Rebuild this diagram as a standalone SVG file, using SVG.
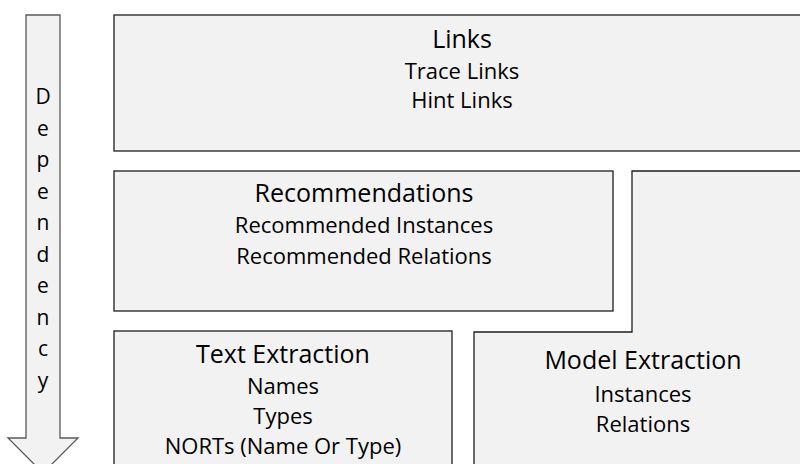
<svg xmlns="http://www.w3.org/2000/svg" width="800" height="464" viewBox="0 0 800 464">
<style>
.box{fill:#f2f2f2;stroke:#1e1e1e;stroke-width:1.3}
.arrow{fill:#f2f2f2;stroke:#595959;stroke-width:1.3}
text{font-family:"Open Sans","Liberation Sans",sans-serif;fill:#000;text-anchor:middle}
.t{font-size:25px}
.s{font-size:22px}
.d{font-size:21px}
</style>
<rect width="800" height="464" fill="#fff"/>
<g id="dependency">
<polygon class="arrow" points="26,15 60,15 60,438 78,438 43,473 8,438 26,438"/>
<text class="d" x="43" y="104">D</text>
<text class="d" x="43" y="135.5">e</text>
<text class="d" x="43" y="167">p</text>
<text class="d" x="43" y="198.5">e</text>
<text class="d" x="43" y="230">n</text>
<text class="d" x="43" y="261.5">d</text>
<text class="d" x="43" y="293">e</text>
<text class="d" x="43" y="324.5">n</text>
<text class="d" x="43" y="356">c</text>
<text class="d" x="43" y="387.5">y</text>
</g>
<g id="links">
<rect class="box" x="114" y="15" width="700" height="136"/>
<text class="t" x="462" y="48">Links</text>
<text class="s" x="462" y="79">Trace Links</text>
<text class="s" x="462" y="108">Hint Links</text>
</g>
<g id="recommendations">
<rect class="box" x="114" y="171" width="499" height="140"/>
<text class="t" x="364" y="202">Recommendations</text>
<text class="s" x="364" y="233">Recommended Instances</text>
<text class="s" x="364" y="264">Recommended Relations</text>
</g>
<g id="model-extraction">
<polygon class="box" points="632,171 811,171 811,475 474,475 474,332 632,332"/>
<text class="t" x="643" y="369">Model Extraction</text>
<text class="s" x="643" y="402">Instances</text>
<text class="s" x="643" y="432">Relations</text>
</g>
<g id="text-extraction">
<rect class="box" x="114" y="331" width="338" height="144"/>
<text class="t" x="283" y="363">Text Extraction</text>
<text class="s" x="283" y="394">Names</text>
<text class="s" x="283" y="424">Types</text>
<text class="s" x="283" y="454">NORTs (Name Or Type)</text>
</g>
<g id="connectors"/>
</svg>
